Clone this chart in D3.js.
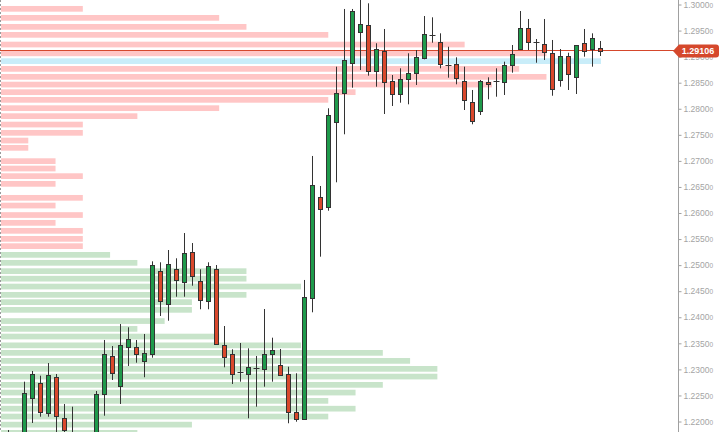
<!DOCTYPE html>
<html>
<head>
<meta charset="utf-8">
<script src="https://cdn.jsdelivr.net/npm/d3@7"></script>
<style>
body { margin: 0; background: #fff; }
svg { display: block; }
.axis text { font-family: "Liberation Sans", Arial, sans-serif; font-size: 8.5px; fill: #a4a4a4; }
.axis line { stroke: #a0a0a0; }
</style>
</head>
<body>
<script>
var width = 719;
var height = 432;
var axisX = 678;

// candles, oldest first
var open = [1.2165, 1.2160, 1.2170, 1.22451, 1.22739, 1.22169, 1.22854, 1.22067, 1.2175, 1.2160,
  1.2145, 1.2160, 1.22522, 1.23251, 1.22687, 1.23435, 1.23424, 1.23155, 1.23289, 1.24882,
  1.24248, 1.24926, 1.24682, 1.25246, 1.24690, 1.24306, 1.24920, 1.23462, 1.23289, 1.22944,
  1.22905, 1.23021, 1.23002, 1.23289, 1.23078, 1.22905, 1.22177, 1.22054, 1.24364, 1.26301,
  1.26109, 1.27740, 1.28296, 1.28883, 1.29467, 1.29607, 1.28730, 1.29114, 1.28532, 1.28277,
  1.28565, 1.28680, 1.28979, 1.29415, 1.29275, 1.28839, 1.28853, 1.28532, 1.28124, 1.27957,
  1.28513, 1.28532, 1.28513, 1.28834, 1.29140, 1.29543, 1.29275, 1.29236, 1.29064, 1.28546,
  1.29012, 1.28603, 1.29256, 1.29140, 1.29160];
var high = [1.21837, 1.2175, 1.22764, 1.22969, 1.22879, 1.23122, 1.22911, 1.22336, 1.22284, 1.2172,
  1.2170, 1.22585, 1.23564, 1.23448, 1.23870, 1.23807, 1.23564, 1.23679, 1.25073, 1.25054,
  1.25290, 1.25131, 1.25616, 1.25424, 1.24920, 1.25054, 1.25002, 1.23832, 1.23385, 1.23506,
  1.23404, 1.23257, 1.24158, 1.23608, 1.23391, 1.23051, 1.22925, 1.24715, 1.27094, 1.26518,
  1.28009, 1.28807, 1.29914, 1.29914, 1.30120, 1.30023, 1.29256, 1.29530, 1.28647, 1.28776,
  1.29064, 1.29127, 1.29779, 1.29754, 1.29447, 1.29190, 1.28987, 1.28807, 1.28360, 1.28552,
  1.28603, 1.28776, 1.28903, 1.29223, 1.29875, 1.29722, 1.29338, 1.29722, 1.29319, 1.29146,
  1.29075, 1.29217, 1.29530, 1.29447, 1.29300];
var low = [1.2150, 1.2140, 1.2160, 1.21971, 1.22092, 1.22092, 1.2170, 1.2165, 1.2150, 1.2135,
  1.2130, 1.2150, 1.22111, 1.22796, 1.22336, 1.23065, 1.23128, 1.22849, 1.23224, 1.24024,
  1.23934, 1.24394, 1.24394, 1.24605, 1.24153, 1.24153, 1.23468, 1.23040, 1.22720, 1.22764,
  1.22062, 1.22284, 1.22668, 1.22764, 1.22873, 1.21966, 1.21996, 1.22029, 1.24095, 1.25162,
  1.26044, 1.26589, 1.27510, 1.28404, 1.28743, 1.28634, 1.28423, 1.27899, 1.28053, 1.28116,
  1.28085, 1.28456, 1.28949, 1.29267, 1.28776, 1.28596, 1.28469, 1.27976, 1.27702, 1.27880,
  1.28181, 1.28231, 1.28264, 1.28692, 1.29140, 1.29127, 1.28883, 1.28935, 1.28250, 1.28423,
  1.28360, 1.28283, 1.28999, 1.28807, 1.29012];
var close = [1.2172, 1.2150, 1.22547, 1.22911, 1.22182, 1.22892, 1.22106, 1.21837, 1.2165, 1.2145,
  1.2165, 1.22527, 1.23289, 1.22925, 1.23462, 1.23577, 1.23289, 1.23308, 1.24997, 1.24306,
  1.25016, 1.24709, 1.25227, 1.24791, 1.24337, 1.24978, 1.23487, 1.23232, 1.22905, 1.22944,
  1.23051, 1.23021, 1.23289, 1.23372, 1.22898, 1.22188, 1.22043, 1.24394, 1.26537, 1.26071,
  1.27880, 1.28296, 1.28935, 1.29875, 1.29626, 1.28730, 1.29140, 1.28519, 1.28283, 1.28565,
  1.28680, 1.28987, 1.29434, 1.29415, 1.28853, 1.28839, 1.28584, 1.28168, 1.27771, 1.28532,
  1.28469, 1.28532, 1.28834, 1.29045, 1.29543, 1.29275, 1.29275, 1.29094, 1.28373, 1.29012,
  1.28672, 1.29217, 1.29114, 1.29352, 1.29106];

// volume profile rows (price level, count)
var profileLevels = [1.29917, 1.29744, 1.29571, 1.29418, 1.29232, 1.29063, 1.28913, 1.28765, 1.28612, 1.28464,
  1.28318, 1.28171, 1.28011, 1.27858, 1.27697, 1.27538, 1.27390, 1.27250, 1.26995, 1.26853,
  1.26707, 1.26559, 1.26291, 1.26143, 1.25961, 1.25811, 1.25658, 1.25504, 1.25364, 1.25197,
  1.25044, 1.24884, 1.24740, 1.24589, 1.24430, 1.24290, 1.24142, 1.23927, 1.23777, 1.23630,
  1.23461, 1.23317, 1.23163, 1.23010, 1.22862, 1.22703, 1.22555, 1.22396, 1.22246, 1.22095,
  1.21940, 1.21782];
var profileVolume = [3, 8, 9, 12, 17, 20, 22, 19, 20, 18,
  13, 12, 8, 5, 3, 3, 1, 1, 2, 2,
  3, 2, 3, 2, 3, 2, 3, 3, 3, 4,
  5, 9, 9, 11, 9, 7, 7, 6, 5, 8,
  11, 14, 15, 16, 16, 14, 13, 12, 13, 12,
  7, 5];
var splitPrice = 1.2528; // above: sell side (pink), below: buy side (green)

var tickValues = [1.2200, 1.2250, 1.2300, 1.2350, 1.2400, 1.2450, 1.2500, 1.2550, 1.2600,
  1.2650, 1.2700, 1.2750, 1.2800, 1.2850, 1.2900, 1.2950, 1.3000];
var lastPrice = 1.29106;

var svg = d3.select("body").append("svg")
    .attr("width", width)
    .attr("height", height);

var y = d3.scaleLinear().domain([1.22, 1.30]).range([421.5, 4.5]);
var x = d3.scaleLinear().domain([0, open.length - 1]).range([8.5, 600.5]);
var xv = d3.scaleLinear().domain([0, d3.max(profileVolume)]).range([1, 601]);

svg.append("defs").append("clipPath").attr("id", "plot")
  .append("rect").attr("width", axisX).attr("height", height);
var plot = svg.append("g").attr("clip-path", "url(#plot)");

//volume profile bars
var poc = d3.max(profileVolume);
plot.selectAll("rect.vp")
    .data(profileLevels)
  .enter().append("rect")
    .attr("class", "vp")
    .attr("x", xv(0))
    .attr("y", function(d) { return y(d) - 2.85; })
    .attr("height", 5.7)
    .attr("width", function(d, i) { return xv(profileVolume[i]) - xv(0); })
    .attr("fill", function(d, i) {
      if (profileVolume[i] == poc) return "#c9edf9";
      return d > splitPrice ? "#ffc6c6" : "#c8e4ca";
    });

//left dashed border
svg.append("line")
    .attr("x1", 0.5).attr("x2", 0.5)
    .attr("y1", 0).attr("y2", height)
    .attr("stroke", "#9a9a9a")
    .attr("stroke-dasharray", "2,2");

//current price line
var py = Math.floor(y(lastPrice) - 0.5) + 0.5;
plot.append("line")
    .attr("x1", 0).attr("x2", axisX)
    .attr("y1", py).attr("y2", py)
    .attr("stroke", "#d5482c")
    .attr("stroke-width", 1);

//candles
var candle = plot.selectAll("g.candle")
    .data(open)
  .enter().append("g")
    .attr("class", "candle");

candle.append("line")
    .attr("x1", function(d, i) { return x(i); })
    .attr("x2", function(d, i) { return x(i); })
    .attr("y1", function(d, i) { return y(high[i]); })
    .attr("y2", function(d, i) { return y(low[i]); })
    .attr("stroke", "#333");

candle.each(function(d, i) {
  var g = d3.select(this);
  var top = Math.round(y(Math.max(open[i], close[i]))) + 0.5;
  var bot = Math.round(y(Math.min(open[i], close[i]))) + 0.5;
  if (bot - top < 1) {
    g.append("line")
      .attr("x1", x(i) - 3).attr("x2", x(i) + 3)
      .attr("y1", top).attr("y2", top)
      .attr("stroke", "#333");
  } else {
    g.append("rect")
      .attr("x", x(i) - 2)
      .attr("y", top)
      .attr("width", 4)
      .attr("height", bot - top)
      .attr("fill", close[i] > open[i] ? "#1f9a4b" : "#d9482c")
      .attr("stroke", "#333")
      .attr("stroke-width", 1);
  }
});

//price axis
var yAxis = d3.axisRight(y)
    .tickValues(tickValues)
    .tickSize(3)
    .tickPadding(2)
    .tickFormat(d3.format(".4f"));

var axis = svg.append("g")
    .attr("class", "axis")
    .attr("transform", "translate(" + (axisX + 0.5) + ",0)")
    .call(yAxis);
axis.select(".domain").remove();
axis.selectAll(".tick text")
  .append("tspan")
    .style("font-size", "6.5px")
    .text("0");

svg.append("line")
    .attr("x1", axisX + 0.5).attr("x2", axisX + 0.5)
    .attr("y1", 0).attr("y2", height)
    .attr("stroke", "#a0a0a0");

//current price tag
var ty = y(lastPrice);
svg.append("path")
    .attr("d", "M" + 673 + "," + ty +
      "L" + 679 + "," + (ty - 6.5) +
      "L" + 716 + "," + (ty - 6.5) +
      "Q" + 719 + "," + (ty - 6.5) + " " + 719 + "," + (ty - 3.5) +
      "L" + 719 + "," + (ty + 3.5) +
      "Q" + 719 + "," + (ty + 6.5) + " " + 716 + "," + (ty + 6.5) +
      "L" + 679 + "," + (ty + 6.5) + "Z")
    .attr("fill", "#d5482c");

svg.append("text")
    .attr("x", 698)
    .attr("y", ty)
    .attr("dy", "0.35em")
    .attr("text-anchor", "middle")
    .style("font-family", "Liberation Sans, Arial, sans-serif")
    .style("font-size", "9px")
    .style("font-weight", "bold")
    .style("fill", "#fff")
    .text(d3.format(".5f")(lastPrice));
</script>
</body>
</html>
